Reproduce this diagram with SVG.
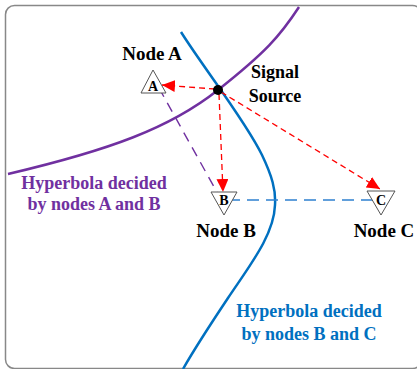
<svg xmlns="http://www.w3.org/2000/svg" width="417" height="369" viewBox="0 0 417 369">
<defs>
<style>
.lbl{font-weight:bold;text-anchor:middle}
.node{font-size:19px;fill:#000}
.sym{font-size:14px;fill:#000}
.tri{fill:#fff;stroke:#555;stroke-width:1}
.red{stroke:#ff0000;stroke-width:1.3;stroke-dasharray:6 4;fill:none}
</style>
<marker id="arr" markerUnits="userSpaceOnUse" markerWidth="14" markerHeight="12" refX="13" refY="6" orient="auto">
<path d="M0,0 L13,6 L0,12 Z" fill="#ff0000"/>
</marker>
</defs>
<rect x="5.5" y="5.5" width="416" height="363" rx="9" fill="#fff" stroke="#888" stroke-width="1.5"/>
<g id="connectors">
<path d="M8,174 C110,150 170,128 218,90 S280,36 299,7" fill="none" stroke="#7030a0" stroke-width="2.5"/>
<path d="M181,32 C205,70 245,120 262,155 C272,176 276,190 275,205 C274,235 250,265 228,298 C210,325 195,348 183,369" fill="none" stroke="#0070c0" stroke-width="2.5"/>
<line x1="159" y1="88" x2="223" y2="203" stroke="#7030a0" stroke-width="1.4" stroke-dasharray="10 7"/>
<line x1="228" y1="200" x2="377" y2="200" stroke="#2e80d0" stroke-width="1.4" stroke-dasharray="12 7"/>
<line class="red" x1="215" y1="89" x2="162" y2="85" marker-end="url(#arr)"/>
<line class="red" x1="219" y1="94" x2="223" y2="192" marker-end="url(#arr)"/>
<line class="red" x1="221" y1="92" x2="380" y2="189" marker-end="url(#arr)"/>
</g>
<g font-family="'Liberation Serif', 'Times New Roman', 'DejaVu Serif', serif">
<g id="nodeA">
<polygon class="tri" points="153,70 141,93 166,93"/>
<text class="lbl sym" x="153" y="91">A</text>
<text class="lbl node" x="152" y="60">Node A</text>
</g>
<g id="nodeB">
<polygon class="tri" points="211,192 237,192 224,215"/>
<text class="lbl sym" x="224" y="205">B</text>
<text class="lbl node" x="226" y="237">Node B</text>
</g>
<g id="nodeC">
<polygon class="tri" points="367,191 395,191 381,215"/>
<text class="lbl sym" x="381" y="205">C</text>
<text class="lbl node" x="384" y="237">Node C</text>
</g>
<g id="source">
<circle cx="218" cy="90" r="5" fill="#000"/>
<text class="lbl" font-size="18" x="275" y="78">Signal</text>
<text class="lbl" font-size="18" x="275" y="102">Source</text>
</g>
<g id="hypAB">
<text class="lbl" font-size="18" fill="#7030a0" x="94" y="189">Hyperbola decided</text>
<text class="lbl" font-size="18" fill="#7030a0" x="94" y="210">by nodes A and B</text>
</g>
<g id="hypBC">
<text class="lbl" font-size="18" fill="#0070c0" x="309" y="317">Hyperbola decided</text>
<text class="lbl" font-size="18" fill="#0070c0" x="309" y="340">by nodes B and C</text>
</g>
</g>
</svg>
